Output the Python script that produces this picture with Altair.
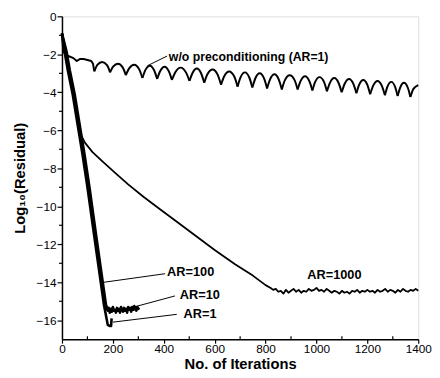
import altair as alt
import pandas as pd

FONT = "Liberation Sans"

# ---- w/o preconditioning (AR=1) ----
# lead-in part, then scallops: each scallop = cusp, rise, peak, fall (next cusp starts the next one)
wo_lead_x = [0, 5, 15, 27, 45, 58, 70, 85, 100, 115, 122, 127]
wo_lead_y = [-0.9, -1.85, -2.0, -2.1, -2.2, -2.35, -2.25, -2.25, -2.3, -2.35, -2.5, -2.90]

wo_x = [127, 139, 158, 177,
        189, 201, 220, 239,
        251, 264, 284, 303,
        316, 328, 345, 362,
        374, 386, 403, 420,
        432, 446, 466, 487,
        501, 513, 530, 547,
        559, 572, 592, 612,
        625, 638, 657, 677,
        690, 702, 719, 736,
        748, 760, 777, 794,
        806, 818, 835, 852,
        864, 876, 895, 914,
        926, 938, 955, 972,
        984, 995, 1012, 1030,
        1041, 1053, 1070, 1087,
        1099, 1111, 1128, 1145,
        1157, 1168, 1184, 1200,
        1211, 1223, 1240, 1257,
        1269, 1279, 1294, 1309,
        1319, 1329, 1344, 1359,
        1369, 1381, 1400]
wo_y = [-2.90, -2.55, -2.40, -2.57,
        -2.95, -2.65, -2.50, -2.70,
        -3.10, -2.74, -2.55, -2.78,
        -3.25, -2.82, -2.60, -2.84,
        -3.30, -2.88, -2.65, -2.90,
        -3.35, -2.93, -2.70, -2.95,
        -3.40, -2.98, -2.75, -3.01,
        -3.50, -3.04, -2.80, -3.08,
        -3.60, -3.14, -2.90, -3.17,
        -3.70, -3.20, -2.95, -3.22,
        -3.75, -3.26, -3.00, -3.27,
        -3.80, -3.31, -3.05, -3.33,
        -3.85, -3.36, -3.10, -3.36,
        -3.85, -3.40, -3.15, -3.41,
        -3.90, -3.45, -3.20, -3.46,
        -3.95, -3.50, -3.25, -3.51,
        -4.00, -3.55, -3.30, -3.56,
        -4.05, -3.60, -3.35, -3.61,
        -4.10, -3.65, -3.40, -3.66,
        -4.15, -3.70, -3.45, -3.71,
        -4.20, -3.75, -3.50, -3.76,
        -4.25, -3.82, -3.62]

# ---- AR=1000 ----
ar1000_x = [0, 14, 27, 46, 60, 73, 90, 120, 160, 210, 260, 320, 380, 450, 525,
            600, 680, 750, 800, 820, 830,
            840, 850, 860, 870, 880, 890, 900, 910, 920, 930, 940, 950, 960, 970,
            980, 990, 1000, 1010, 1020, 1030, 1040, 1050, 1060, 1070, 1080, 1090,
            1100, 1110, 1120, 1130, 1140, 1150, 1160, 1170, 1180, 1190, 1200, 1210,
            1220, 1230, 1240, 1250, 1260, 1270, 1280, 1290, 1300, 1310, 1320, 1330,
            1340, 1350, 1360, 1370, 1380, 1390, 1400]
ar1000_y = [-0.9, -1.9, -2.9, -4.15, -5.3, -6.2, -6.65, -7.15, -7.65, -8.25, -8.85,
            -9.5, -10.1, -10.8, -11.55, -12.3, -13.05, -13.65, -14.15, -14.3, -14.4,
            -14.35, -14.5, -14.45, -14.6, -14.4, -14.55, -14.45, -14.35, -14.5, -14.4,
            -14.55, -14.45, -14.5, -14.35, -14.45, -14.4, -14.3, -14.45, -14.4, -14.5,
            -14.35, -14.45, -14.55, -14.45, -14.5, -14.6, -14.45, -14.55, -14.5, -14.6,
            -14.45, -14.5, -14.4, -14.55, -14.45, -14.5, -14.4, -14.5, -14.45, -14.55,
            -14.4, -14.5, -14.45, -14.35, -14.5, -14.4, -14.45, -14.55, -14.4, -14.5,
            -14.35, -14.45, -14.5, -14.4, -14.45, -14.35, -14.45]

# ---- AR=100 / AR=10 / AR=1 (steep bundle) ----
ar100_x = [0, 18, 31, 50, 70, 89, 108, 135, 154, 173, 178]
ar100_y = [-0.9, -1.85, -2.85, -4.1, -5.75, -7.3, -9.0, -11.6, -13.4, -15.2, -15.35]

ar10_x = [0, 14, 27, 46, 66, 85, 104, 131, 150, 169, 178,
          180, 184, 188, 192, 196, 200, 204, 208, 212, 216, 220, 224, 228, 232,
          236, 240, 244, 248, 252, 256, 260, 264, 268, 272, 276, 280, 284, 288,
          292, 296, 300, 304]
ar10_y = [-0.9, -1.85, -2.85, -4.1, -5.75, -7.3, -9.0, -11.6, -13.4, -15.2, -15.45,
          -15.5, -15.35, -15.6, -15.4, -15.55, -15.3, -15.5, -15.45, -15.6, -15.35,
          -15.5, -15.4, -15.6, -15.3, -15.45, -15.55, -15.35, -15.5, -15.4, -15.6,
          -15.3, -15.45, -15.35, -15.55, -15.3, -15.45, -15.25, -15.4, -15.5, -15.3,
          -15.4, -15.35]

ar1_x = [0, 10, 23, 42, 62, 81, 100, 127, 146, 165, 180, 187, 193, 195]
ar1_y = [-0.9, -1.85, -2.85, -4.1, -5.75, -7.3, -9.0, -11.6, -13.4, -15.2, -16.25,
         -16.3, -16.3, -15.9]

# ---- labels and pointer lines ----
label_text = ["w/o preconditioning (AR=1)", "AR=100", "AR=10", "AR=1", "AR=1000"]
label_x = [420, 413, 463, 478, 964]
label_y = [-2.12, -13.44, -14.67, -15.7, -13.64]
label_size = [12.5, 13, 13, 13, 13]

ptr_x1 = [413, 405, 444, 451]
ptr_y1 = [-2.09, -13.55, -14.72, -15.69]
ptr_x2 = [336, 165, 231, 200]
ptr_y2 = [-2.6, -14.0, -15.49, -16.1]

# ---- ticks ----
x_major = [0, 200, 400, 600, 800, 1000, 1200, 1400]
x_minor = [100, 300, 500, 700, 900, 1100, 1300]
y_major = [-16, -14, -12, -10, -8, -6, -4, -2, 0]
y_minor = [-15, -13, -11, -9, -7, -5, -3, -1]

W, H = 363, 329

X = alt.X("x:Q", scale=alt.Scale(domain=[0, 1400], nice=False, zero=False),
          axis=alt.Axis(values=x_major, format="d", title="No. of Iterations", grid=False,
                        tickSize=4, tickColor="black", tickWidth=1.2,
                        domainColor="black", domainWidth=1.5,
                        labelFont=FONT, labelFontSize=12, labelColor="black",
                        labelPadding=1, labelFlush=False,
                        titleFont=FONT, titleFontSize=15, titleFontWeight="bold",
                        titleColor="black", titlePadding=2))
Y = alt.Y("y:Q", scale=alt.Scale(domain=[-17, 0], nice=False, zero=False),
          axis=alt.Axis(values=y_major, title="Log₁₀(Residual)", grid=False,
                        tickSize=5, tickColor="black", tickWidth=1.2,
                        domainColor="black", domainWidth=1.5,
                        labelFont=FONT, labelFontSize=12, labelColor="black",
                        labelPadding=1, labelFlush=False,
                        titleFont=FONT, titleFontSize=15, titleFontWeight="bold",
                        titleColor="black", titlePadding=9))


def line_layer(xs, ys, width, interp="linear", groups=None):
    df = pd.DataFrame({"x": xs, "y": ys, "o": list(range(len(xs))),
                       "g": groups if groups is not None else [0] * len(xs)})
    return alt.Chart(df).mark_line(color="black", strokeWidth=width,
                                   strokeJoin="round", interpolate=interp).encode(
        x=X, y=Y, order="o:Q", detail="g:N")


# split scallops into separate arcs so the cusps stay sharp and the tops round
arc_x, arc_y, arc_g = [], [], []
n = len(wo_x)
k = 0
start = 0
while start < n - 1:
    end = min(start + 4, n - 1)
    for j in range(start, end + 1):
        arc_x.append(wo_x[j])
        arc_y.append(wo_y[j])
        arc_g.append(k)
    k += 1
    start += 4

layers = [
    line_layer(wo_lead_x, wo_lead_y, 2.0),
    line_layer(arc_x, arc_y, 2.0, "monotone", arc_g),
    line_layer(ar1000_x, ar1000_y, 1.8),
    line_layer(ar100_x, ar100_y, 2.6),
    line_layer(ar10_x, ar10_y, 2.6),
    line_layer(ar1_x, ar1_y, 2.6),
]

ptr_df = pd.DataFrame({"x": ptr_x1, "y": ptr_y1, "x2": ptr_x2, "y2": ptr_y2})
layers.append(alt.Chart(ptr_df).mark_rule(color="black", strokeWidth=1).encode(
    x=X, y=Y, x2="x2:Q", y2="y2:Q"))

lab_df = pd.DataFrame({"x": label_x, "y": label_y, "t": label_text})
for i in range(len(label_text)):
    sub = lab_df.iloc[[i]]
    layers.append(alt.Chart(sub).mark_text(
        align="left", baseline="middle", font=FONT, fontWeight="bold",
        fontSize=float(label_size[i]), color="black").encode(x=X, y=Y, text="t:N"))

ymin_df = pd.DataFrame({"y": y_minor})
layers.append(alt.Chart(ymin_df).mark_rule(color="black", strokeWidth=1.2).encode(
    y=Y, x=alt.value(-3), x2=alt.value(0)))
xmin_df = pd.DataFrame({"x": x_minor})
layers.append(alt.Chart(xmin_df).mark_rule(color="black", strokeWidth=1.2).encode(
    x=X, y=alt.value(H - 3), y2=alt.value(H)))

chart = alt.layer(*layers).properties(
    width=W, height=H,
    autosize=alt.AutoSizeParams(type="none"),
    padding={"left": 55, "top": 5, "right": 14, "bottom": 36},
).configure_view(stroke="black", strokeWidth=1.5).configure(background="white")

chart.save("out.html", embed_options={"renderer": "svg", "actions": False})
